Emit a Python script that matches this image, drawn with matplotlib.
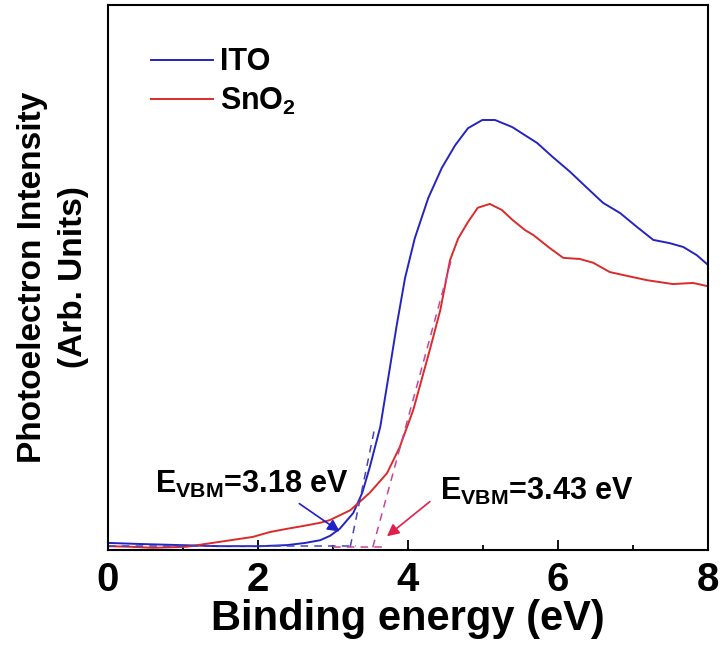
import numpy as np
import matplotlib
matplotlib.use("Agg")
import matplotlib.pyplot as plt

# -----------------------------------------------
# Data (arbitrary intensity units, 0-100)
# -----------------------------------------------
ito_x = [0.00, 0.43, 0.96, 1.49, 2.03, 2.39, 2.63, 2.83, 2.96, 3.09, 3.27,
         3.39, 3.49, 3.63, 3.76, 3.85, 3.96, 4.09, 4.27, 4.45, 4.63, 4.80,
         4.99, 5.16, 5.39, 5.56, 5.72, 5.93, 6.16, 6.39, 6.60, 6.83, 7.05,
         7.27, 7.49, 7.67, 7.85, 8.00]
ito_y = [1.3, 1.1, 0.9, 0.7, 0.7, 0.9, 1.3, 1.8, 2.6, 3.9, 6.8,
         10.5, 15.2, 22.6, 33.6, 41.3, 49.9, 57.2, 64.6, 70.1, 74.3, 77.4,
         78.9, 78.9, 77.6, 76.1, 74.7, 72.1, 69.4, 66.4, 63.7, 61.8, 59.3,
         56.9, 56.3, 55.6, 54.1, 52.3]

sno2_x = [0.00, 0.29, 0.60, 1.05, 1.49, 1.93, 2.16, 2.39, 2.60, 2.83, 2.96,
          3.23, 3.49, 3.72, 3.89, 4.07, 4.29, 4.43, 4.56, 4.67, 4.80, 4.93,
          5.09, 5.25, 5.39, 5.56, 5.67, 5.89, 6.07, 6.29, 6.47, 6.69, 6.92,
          7.19, 7.53, 7.80, 8.00]
sno2_y = [0.7, 0.6, 0.4, 0.6, 1.5, 2.4, 3.3, 3.9, 4.4, 5.0, 5.5,
          7.3, 10.5, 14.1, 18.9, 25.7, 36.7, 44.0, 53.2, 57.2, 60.2, 62.8,
          63.5, 62.4, 60.6, 58.7, 57.8, 55.4, 53.6, 53.4, 52.7, 51.0, 50.3,
          49.5, 48.8, 49.0, 48.4]

# extrapolation guides (baseline + tangent)
ito_base_x, ito_base_y = [0.0, 3.30], [0.7, 0.7]
ito_tan_x, ito_tan_y = [3.23, 3.55], [0.6, 22.0]
sno2_base_x, sno2_base_y = [3.00, 3.67], [0.5, 0.5]
sno2_tan_x, sno2_tan_y = [3.53, 4.59], [0.5, 53.9]

labels = ["ITO", "SnO$_2$"]
vbm_text = [r"E$_{\mathrm{VBM}}$=3.18 eV", r"E$_{\mathrm{VBM}}$=3.43 eV"]

plt.rcParams['font.family'] = ['Liberation Sans', 'DejaVu Sans']
plt.rcParams['font.weight'] = 'bold'
plt.rcParams['mathtext.fontset'] = 'custom'
plt.rcParams['mathtext.rm'] = 'Liberation Sans:bold'
plt.rcParams['mathtext.it'] = 'Liberation Sans:bold'
plt.rcParams['mathtext.bf'] = 'Liberation Sans:bold'

fig = plt.figure(figsize=(7.25, 6.59), dpi=100)
ax = fig.add_axes([0.149, 0.1654, 0.8276, 0.827])

blue = "#2424c0"
red = "#dc2a2a"

ax.plot(ito_x, ito_y, color=blue, lw=1.4, label=labels[0])
ax.plot(sno2_x, sno2_y, color=red, lw=1.4, label=labels[1])

ax.plot(ito_base_x, ito_base_y, color="#4444c0", lw=1.1, ls=(0, (5, 4)))
ax.plot(ito_tan_x, ito_tan_y, color="#4444c0", lw=1.1, ls=(0, (5, 4)))
ax.plot(sno2_base_x, sno2_base_y, color="#c8449a", lw=1.1, ls=(0, (5, 4)))
ax.plot(sno2_tan_x, sno2_tan_y, color="#c8449a", lw=1.1, ls=(0, (5, 4)))

# arrows + labels
ax.annotate("", xy=(3.12, 3.1), xytext=(2.52, 8.8),
            arrowprops=dict(arrowstyle="-|>", color="#2020c8", lw=1.2,
                            mutation_scale=18))
ax.annotate("", xy=(3.69, 2.2), xytext=(4.32, 9.2),
            arrowprops=dict(arrowstyle="-|>", color="#e0204a", lw=1.2,
                            mutation_scale=18))
ax.text(0.63, 10.5, vbm_text[0], fontsize=22, fontweight='bold',
        ha='left', va='baseline')
ax.text(4.43, 9.2, vbm_text[1], fontsize=22, fontweight='bold',
        ha='left', va='baseline')

ax.set_xlim(0, 8)
ax.set_ylim(0, 100)
ax.set_xticks([0, 2, 4, 6, 8])
ax.set_xticks([1, 3, 5, 7], minor=True)
ax.set_yticks([])
ax.tick_params(axis='x', which='major', direction='in', length=7, width=1.3,
               labelsize=29, pad=8, top=False)
ax.tick_params(axis='x', which='minor', direction='in', length=3.6, width=1.3,
               top=False)
for s in ax.spines.values():
    s.set_linewidth(1.5)

ax.set_xlabel("Binding energy (eV)", fontsize=30, fontweight='bold', labelpad=0)
ax.set_ylabel("Photoelectron Intensity\n(Arb. Units)", fontsize=24,
              fontweight='bold', labelpad=14, linespacing=1.4)

ax.legend(loc='upper left', bbox_to_anchor=(0.052, 0.945), frameon=False,
          fontsize=22, handlelength=2.0, handletextpad=0.25,
          labelspacing=0.28, borderaxespad=0)

fig.savefig("out.png", dpi=100)
